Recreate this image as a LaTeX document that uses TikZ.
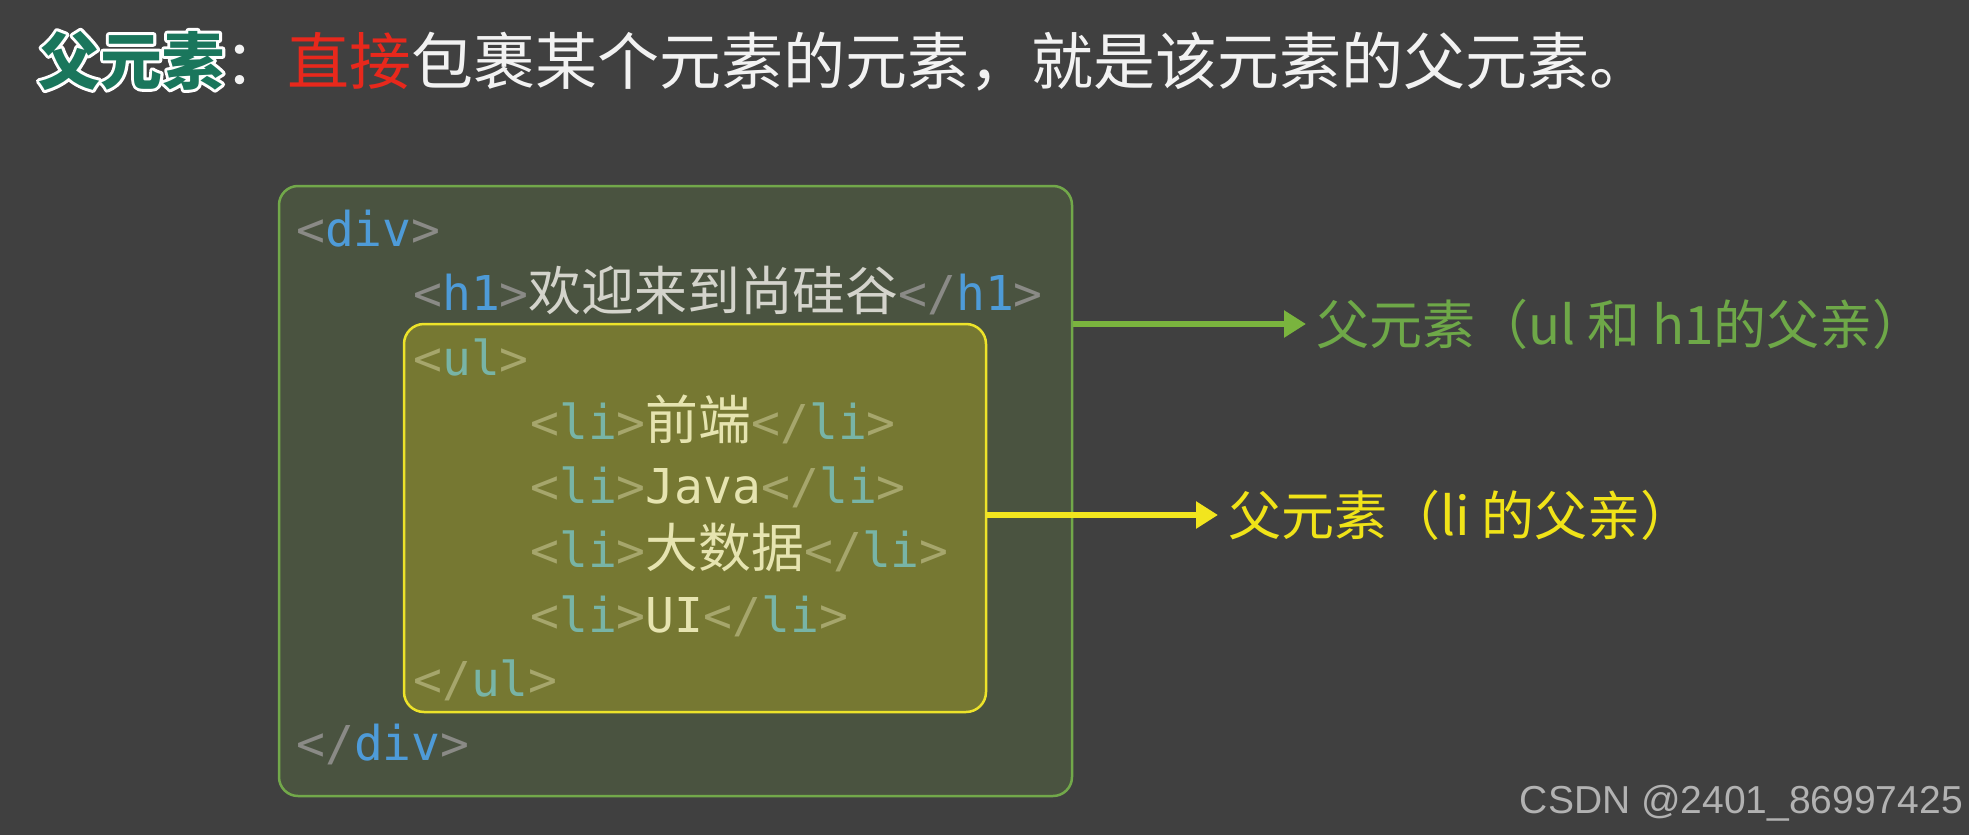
\documentclass[tikz,border=0pt]{standalone}
\usepackage{fontspec}
\setmainfont{Noto Sans CJK SC}
\newfontfamily\codefont{DejaVu Sans Mono}
\newfontfamily\codecn[Scale=1.1]{Noto Sans CJK SC}
\newfontfamily\markfont{Liberation Sans}
\usepackage{tikz}
\usetikzlibrary{arrows.meta,positioning}
\usepackage{xcolor}
\definecolor{bgGray}{HTML}{404040}
\definecolor{divFill}{HTML}{4A5340}
\definecolor{divEdge}{HTML}{72A84A}
\definecolor{ulFill}{HTML}{767832}
\definecolor{ulEdge}{HTML}{EDE32A}
\definecolor{arrowGreen}{HTML}{7AB43E}
\definecolor{lblGreen}{HTML}{6EA848}
\definecolor{arrowYellow}{HTML}{F2E51E}
\definecolor{lblYellow}{HTML}{F0E318}
\definecolor{titleGreen}{HTML}{1A765C}
\definecolor{titleRed}{HTML}{E8281C}
\definecolor{titleWhite}{HTML}{F2F2F2}
\definecolor{brkOut}{HTML}{8A8A86}
\definecolor{tagOut}{HTML}{4E9BD8}
\definecolor{txtOut}{HTML}{D4D4CC}
\definecolor{brkIn}{HTML}{A6A66C}
\definecolor{tagIn}{HTML}{78B4A6}
\definecolor{txtIn}{HTML}{E6E4B0}
\definecolor{markGray}{HTML}{B2B2B2}
\colorlet{brk}{brkOut}
\colorlet{tagc}{tagOut}
\newcommand{\cn}[1]{{\codecn #1}}
\newcommand{\otag}[1]{\textcolor{brk}{<}\textcolor{tagc}{#1}\textcolor{brk}{>}}
\newcommand{\ctag}[1]{\textcolor{brk}{</}\textcolor{tagc}{#1}\textcolor{brk}{>}}
% white outline for the title word
\newcommand{\outlined}[1]{\special{pdf:literal direct 2 Tr 6 w 1 j}#1\special{pdf:literal direct 0 Tr 1 w}}

\begin{document}
\begin{tikzpicture}[x=1pt, y=-1pt,
    titletext/.style={anchor=base west, inner sep=0pt, font=\fontsize{62}{70}\selectfont},
    code/.style={anchor=base west, inner sep=0pt, font=\codefont\fontsize{48}{58}\selectfont},
    outer code/.style={text=txtOut, execute at begin node={\colorlet{brk}{brkOut}\colorlet{tagc}{tagOut}}},
    inner code/.style={text=txtIn, execute at begin node={\colorlet{brk}{brkIn}\colorlet{tagc}{tagIn}}},
    lbl/.style={anchor=west, inner xsep=10pt, inner ysep=0pt, font=\fontsize{53}{62}\selectfont},
    pointer/.style={-{Triangle[length=22pt,width=26pt]}, line width=6pt}]
    \fill[bgGray] (0,0) rectangle (1969,835);
    \useasboundingbox (0,0) rectangle (1969,835);
    % title
    \node[titletext, text=white] (tglow) at (38,84) {\bfseries\outlined{父元素}};
    \node[titletext, text=titleGreen] (tparent) at (tglow.base west) {\bfseries 父元素};
    \node[titletext, text=titleWhite] (tcolon) at (tparent.base east) {：};
    \node[titletext, text=titleRed] (tdirect) at (tcolon.base east) {直接};
    \node[titletext, text=titleWhite] (trest) at (tdirect.base east) {包裹某个元素的元素，就是该元素的父元素。};
    % boxes
    \node[draw=divEdge, fill=divFill, line width=2.5pt, rounded corners=19pt, minimum width=793pt, minimum height=610pt, inner sep=0pt] (divbox) at (675.5,491) {};
    \node[draw=ulEdge, fill=ulFill, line width=2.5pt, rounded corners=20pt, minimum width=582pt, minimum height=388pt, inner sep=0pt] (ulbox) at (695,518) {};
    % code lines
    \node[code, outer code] (ldiv) at (296,246) {\otag{div}};
    \node[code, outer code] (lh1) at (413,310) {\otag{h1}\cn{欢迎来到尚硅谷}\ctag{h1}};
    \node[code, inner code] (lul) at (413,375) {\otag{ul}};
    \node[code, inner code] (lli1) at (530,439) {\otag{li}\cn{前端}\ctag{li}};
    \node[code, inner code] (lli2) at (530,503) {\otag{li}Java\ctag{li}};
    \node[code, inner code] (lli3) at (530,567) {\otag{li}\cn{大数据}\ctag{li}};
    \node[code, inner code] (lli4) at (530,632) {\otag{li}UI\ctag{li}};
    \node[code, inner code] (lulend) at (413,696) {\ctag{ul}};
    \node[code, outer code] (ldivend) at (296,760) {\ctag{div}};
    % labels and arrows
    \node[lbl, text=lblGreen] (glabel) at (1306,324) {父元素（ul 和 h1的父亲）};
    \node[lbl, text=lblYellow] (ylabel) at (1218,515) {父元素（li 的父亲）};
    \draw[pointer, arrowGreen] (divbox.east |- glabel.west) -- (glabel.west);
    \draw[pointer, arrowYellow] (ulbox.east |- ylabel.west) -- (ylabel.west);
    \node[anchor=base east, inner sep=0pt, text=markGray, font=\markfont\fontsize{39}{45}\selectfont] (mark) at (1963,813) {CSDN @2401\_86997425};
\end{tikzpicture}
\end{document}
